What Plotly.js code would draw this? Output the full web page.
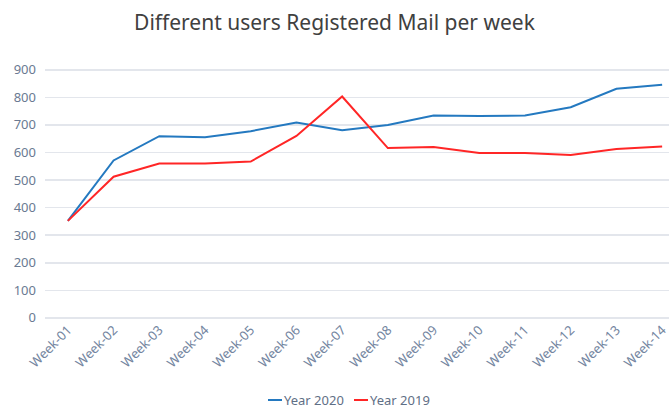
<!DOCTYPE html>
<html>
<head>
<meta charset="utf-8">
<script src="https://cdn.plot.ly/plotly-3.0.1.min.js"></script>
<style>html,body{margin:0;padding:0;background:#fff;}#chart{width:669px;height:410px;}</style>
</head>
<body>
<div id="chart"></div>
<script>
const weeks = ["Week-01","Week-02","Week-03","Week-04","Week-05","Week-06","Week-07","Week-08","Week-09","Week-10","Week-11","Week-12","Week-13","Week-14"];
const year2020 = [352, 571, 659, 655, 677, 709, 681, 700, 734, 732, 734, 764, 831, 846];
const year2019 = [352, 512, 560, 560, 567, 660, 803, 616, 620, 598, 598, 591, 613, 622];
const seriesNames = ["Year 2020", "Year 2019"];
const seriesColors = ["#2479c0", "#ff2626"];

const traces = [
  {x: weeks, y: year2020, type: "scatter", mode: "lines", name: seriesNames[0],
   line: {color: seriesColors[0], width: 2}},
  {x: weeks, y: year2019, type: "scatter", mode: "lines", name: seriesNames[1],
   line: {color: seriesColors[1], width: 2}}
];

// compact legend (short line swatch + label), placed below the axis labels
const W = 669, H = 410, ML = 45, MR = 0, MT = 67, MB = 91;
const pw = W - ML - MR, ph = H - MT - MB;
const px2x = p => (p - ML) / pw;
const py2y = p => (H - MB - p) / ph;
const legendY = 400;
const legendStarts = [268, 354];
const shapes = [], annotations = [];
seriesNames.forEach((n, i) => {
  shapes.push({type: "line", xref: "paper", yref: "paper",
    x0: px2x(legendStarts[i]), x1: px2x(legendStarts[i] + 14),
    y0: py2y(legendY), y1: py2y(legendY),
    line: {color: seriesColors[i], width: 2}});
  annotations.push({xref: "paper", yref: "paper", x: px2x(legendStarts[i] + 15),
    y: py2y(legendY), xanchor: "left", yanchor: "middle", showarrow: false,
    borderpad: 0, text: n, font: {size: 13, color: "#5f6f86"}});
});

const layout = {
  width: W, height: H,
  margin: {l: ML, r: MR, t: MT, b: MB},
  paper_bgcolor: "#fff", plot_bgcolor: "#fff",
  font: {family: "Noto Sans, Open Sans, sans-serif", color: "#6a7a92", size: 13},
  title: {text: "Different users Registered Mail per week", x: 0.5, xanchor: "center",
          y: 0.945, yanchor: "middle",
          font: {family: "Noto Sans, Open Sans, sans-serif", size: 21, color: "#404040"}},
  xaxis: {type: "category", range: [-0.5, 13.15], tickangle: -45, showgrid: false,
          zeroline: false, showline: false, ticks: "",
          tickfont: {size: 13, color: "#7385a0"}},
  yaxis: {range: [-4, 910], tickvals: [0,100,200,300,400,500,600,700,800,900],
          gridcolor: "#e3e6ec", gridwidth: 1.5, zeroline: false, showline: false,
          ticks: "", ticklabelstandoff: 8,
          tickfont: {size: 13, color: "#6a7a92"}},
  showlegend: false,
  shapes: shapes,
  annotations: annotations
};
Plotly.newPlot("chart", traces, layout, {displayModeBar: false, staticPlot: true});
</script>
</body>
</html>
